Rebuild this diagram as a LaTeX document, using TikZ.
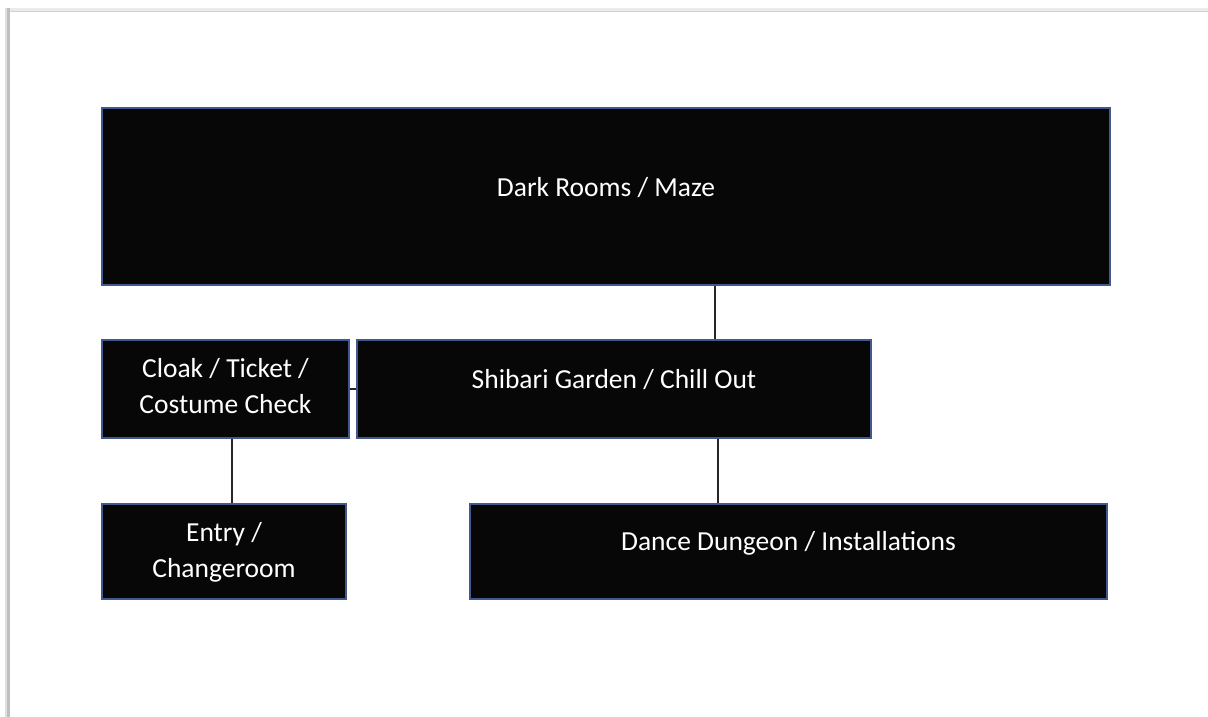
\documentclass[tikz,border=0pt]{standalone}
\usepackage{fontspec}
\setmainfont{Carlito}
\definecolor{boxfill}{HTML}{070707}
\definecolor{boxline}{HTML}{41598F}
\begin{document}
\begin{tikzpicture}[x=1pt,y=-1pt,
  room/.style={draw=boxline,line width=1.2pt,fill=boxfill,inner sep=0pt},
  roomtext/.style={text=white,font=\fontsize{27.5}{36}\selectfont,align=center,inner sep=0pt},
  link/.style={draw=black!85,line width=1.3pt}]
\useasboundingbox (0,0) rectangle (1208,717);
\fill[white] (0,0) rectangle (1208,717);
% page shadow
\fill[black!8] (6,8) rectangle (1208,12);
\fill[black!25] (6,8) rectangle (10,717);
\fill[black!12] (5,8) rectangle (7,717);
\draw[black!18,line width=0.8pt] (10,11) -- (1208,11);
% boxes
\node[room,minimum width=1008pt,minimum height=177pt,
  label={[roomtext,yshift=9pt]center:Dark Rooms / Maze}] (dark) at (606,196.5) {};
\node[room,minimum width=247pt,minimum height=98pt,
  label={[roomtext,yshift=3pt]center:Cloak / Ticket /\\Costume Check}] (cloak) at (225.5,389) {};
\node[room,minimum width=514pt,minimum height=98pt,
  label={[roomtext,yshift=9pt]center:Shibari Garden / Chill Out}] (shibari) at (614,389) {};
\node[room,minimum width=244pt,minimum height=95pt,
  label={[roomtext,yshift=-1pt]center:Entry /\\Changeroom}] (entry) at (224,551.5) {};
\node[room,minimum width=637pt,minimum height=95pt,
  label={[roomtext,yshift=8pt]center:Dance Dungeon / Installations}] (dance) at (788.5,551.5) {};
% connectors
\draw[link] (dark.south -| 715,0) -- (shibari.north -| 715,0);
\draw[link] (cloak.east) -- (shibari.west |- cloak.east);
\draw[link] (cloak.south -| 232,0) -- (entry.north -| 232,0);
\draw[link] (shibari.south -| 718,0) -- (dance.north -| 718,0);
\end{tikzpicture}
\end{document}
